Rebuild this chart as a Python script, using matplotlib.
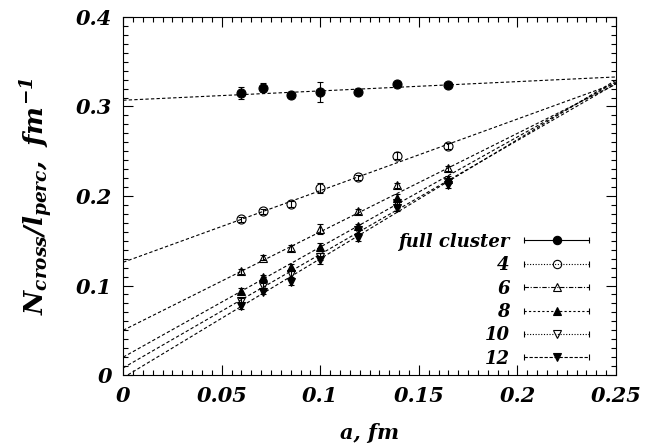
import numpy as np
import matplotlib
matplotlib.use("Agg")
import matplotlib.pyplot as plt
from matplotlib.lines import Line2D
from matplotlib.legend_handler import HandlerBase
from matplotlib.ticker import MultipleLocator

plt.rcParams['font.family'] = 'serif'
plt.rcParams['font.serif'] = ['DejaVu Serif']
plt.rcParams['font.weight'] = 'bold'
plt.rcParams['font.style'] = 'italic'
plt.rcParams['axes.labelweight'] = 'bold'
plt.rcParams['mathtext.fontset'] = 'custom'
plt.rcParams['mathtext.it'] = 'DejaVu Serif:italic:bold'
plt.rcParams['mathtext.rm'] = 'DejaVu Serif:italic:bold'
plt.rcParams['mathtext.bf'] = 'DejaVu Serif:italic:bold'

# lattice spacings
a = [0.06, 0.071, 0.085, 0.1, 0.119, 0.139, 0.165]

labels = ["full cluster", "4", "6", "8", "10", "12"]
y_full = [0.315, 0.321, 0.313, 0.316, 0.316, 0.325, 0.324]
y_4 = [0.174, 0.183, 0.191, 0.209, 0.221, 0.245, 0.256]
y_6 = [0.116, 0.131, 0.142, 0.163, 0.183, 0.212, 0.231]
y_8 = [0.094, 0.109, 0.121, 0.143, 0.166, 0.198, 0.219]
y_10 = [0.083, 0.100, 0.113, 0.132, 0.162, 0.192, 0.216]
y_12 = [0.077, 0.093, 0.104, 0.128, 0.153, 0.187, 0.212]

e_full = [0.007, 0.005, 0.002, 0.011, 0.002, 0.002, 0.002]
e_4 = [0.003, 0.003, 0.003, 0.006, 0.003, 0.004, 0.003]
e_6 = [0.003, 0.003, 0.003, 0.006, 0.003, 0.003, 0.003]
e_8 = [0.003, 0.003, 0.003, 0.004, 0.003, 0.004, 0.003]
e_10 = [0.003, 0.003, 0.003, 0.004, 0.003, 0.004, 0.003]
e_12 = [0.003, 0.003, 0.003, 0.004, 0.003, 0.004, 0.003]

# linear fits y = c0 + c1*a
fit_c0 = [0.307, 0.126, 0.050, 0.020, 0.008, -0.003]
fit_c1 = [0.104, 0.80, 1.10, 1.23, 1.27, 1.33]

xticks = [0, 0.05, 0.1, 0.15, 0.2, 0.25]
xticklabels = ["0", "0.05", "0.1", "0.15", "0.2", "0.25"]
yticks = [0, 0.1, 0.2, 0.3, 0.4]
yticklabels = ["0", "0.1", "0.2", "0.3", "0.4"]

ys = [y_full, y_4, y_6, y_8, y_10, y_12]
es = [e_full, e_4, e_6, e_8, e_10, e_12]
markers = ["o", "o", "^", "^", "v", "v"]
faces = ["k", "none", "none", "k", "none", "k"]
sizes = [6.5, 6.5, 6, 6, 6, 6]
legend_ls = ["-", (0, (1, 1.5)), (0, (4, 1.5, 1, 1.5)), (0, (2, 2)), (0, (1, 1.5)), (0, (3, 1.5))]


class ErrSample(HandlerBase):
    def __init__(self, ls):
        super().__init__()
        self.ls = ls

    def create_artists(self, legend, orig, xd, yd, width, height, fontsize, trans):
        y = (height - yd) / 2
        x0, x1 = -xd, width - xd
        line = Line2D([x0, x1], [y, y], color="k", lw=0.8, ls=self.ls)
        caps = Line2D([x0, x1], [y, y], ls="none", marker="|", ms=5, mec="k", mew=0.8)
        mk = Line2D([(x0 + x1) / 2], [y], ls="none", marker=orig.get_marker(),
                    ms=orig.get_markersize(), mfc=orig.get_markerfacecolor(), mec="k", mew=0.8)
        for art in (line, caps, mk):
            art.set_transform(trans)
        return [line, caps, mk]


fig = plt.figure(figsize=(6.45, 4.47), dpi=100)
ax = fig.add_axes([0.191, 0.161, 0.764, 0.801])

xfit = np.linspace(0, 0.25, 50)
for c0, c1 in zip(fit_c0, fit_c1):
    ax.plot(xfit, c0 + c1 * xfit, color="k", lw=0.8, ls=(0, (3, 2)))

handles = []
hmap = {}
for y, e, m, fc, s, ls, lab in zip(ys, es, markers, faces, sizes, legend_ls, labels):
    ax.errorbar(a, y, yerr=e, fmt=m, ms=s, mfc=fc, mec="k", mew=0.8,
                ecolor="k", elinewidth=0.8, capsize=2, zorder=3)
    h = Line2D([], [], color="k", marker=m, ms=s - 0.5, mfc=fc, mec="k")
    handles.append(h)
    hmap[h] = ErrSample(ls)

ax.set_xlim(0, 0.25)
ax.set_ylim(0, 0.4)
ax.set_xticks(xticks)
ax.set_xticklabels(xticklabels)
ax.set_yticks(yticks)
ax.set_yticklabels(yticklabels)
ax.xaxis.set_minor_locator(MultipleLocator(0.005))
ax.yaxis.set_minor_locator(MultipleLocator(0.01))
ax.tick_params(which="both", direction="in", top=True, right=True, width=0.8)
ax.tick_params(which="major", length=7, labelsize=15, pad=8)
ax.tick_params(which="minor", length=3.5)
for sp in ax.spines.values():
    sp.set_linewidth(0.8)

ax.set_xlabel("a, fm", fontsize=15, labelpad=12)
ax.set_ylabel(r"$N_{cross}/l_{perc},\ fm^{-1}$", fontsize=19, labelpad=14)

leg = ax.legend(handles, labels, handler_map=hmap, loc="lower right",
                bbox_to_anchor=(0.96, 0.0), frameon=False, markerfirst=False,
                fontsize=13, handlelength=3.6, handletextpad=0.8, labelspacing=0.3,
                borderaxespad=0)

fig.savefig("out.png", dpi=100)
